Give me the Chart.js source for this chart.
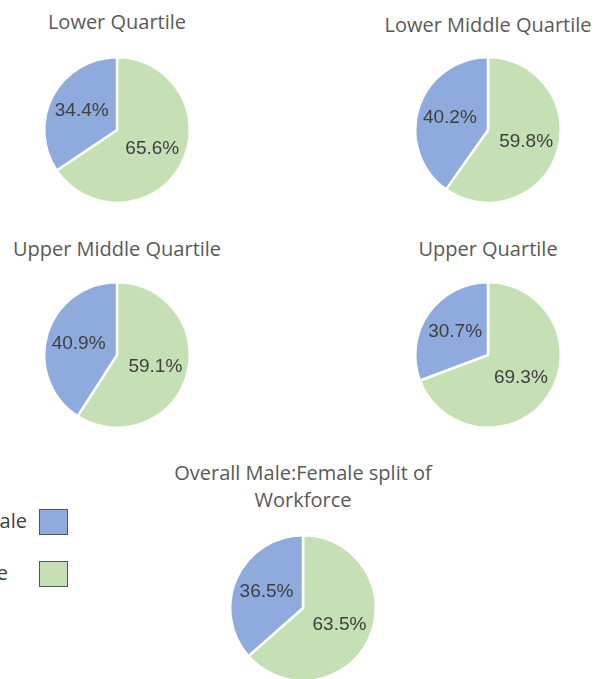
<!DOCTYPE html>
<html lang="en">
<head>
  <meta charset="UTF-8" />
  <title>Male:Female split by pay quartile</title>
  <script src="https://cdn.jsdelivr.net/npm/chart.js"></script>
  <style>
    body {
      margin: 0;
      background: white;
      width: 595px;
      height: 679px;
      overflow: hidden;
      position: relative;
      font-family: "Open Sans", Arial, sans-serif;
    }
    .title {
      position: absolute;
      width: 300px;
      text-align: center;
      color: #595959;
      font-size: 20px;
      line-height: 27px;
    }
    .pie {
      position: absolute;
      width: 152px;
      height: 152px;
    }
    .legend-text {
      position: absolute;
      width: 120px;
      text-align: right;
      color: #404040;
      font-size: 20px;
      line-height: 27px;
    }
    .legend-box {
      position: absolute;
      width: 27px;
      height: 24px;
      border: 1px solid #555;
    }
  </style>
</head>
<body>
  <div id="wrap"></div>

  <script>
    const groups = ['Lower Quartile', 'Lower Middle Quartile', 'Upper Middle Quartile', 'Upper Quartile', 'Overall Male:Female split of Workforce'];
    const seriesLabels = ['Male', 'Female'];
    const maleShare = [34.4, 40.2, 40.9, 30.7, 36.5];
    const femaleShare = [65.6, 59.8, 59.1, 69.3, 63.5];

    const maleColor = '#8faadc';
    const femaleColor = '#c5e0b4';

    // pie centres and title positions on the page
    const layout = [
      { cx: 117, cy: 130, ty: 8, title: ['Lower Quartile'] },
      { cx: 488, cy: 130, ty: 11, title: ['Lower Middle Quartile'] },
      { cx: 117, cy: 355, ty: 235, title: ['Upper Middle Quartile'] },
      { cx: 488, cy: 355, ty: 235, title: ['Upper Quartile'] },
      { cx: 303, cy: 608, ty: 459, title: ['Overall Male:Female split of', 'Workforce'] }
    ];

    const wrap = document.getElementById('wrap');

    // percent labels inside the slices
    const sliceLabels = {
      id: 'sliceLabels',
      afterDatasetsDraw(chart) {
        const c = chart.ctx;
        const meta = chart.getDatasetMeta(0);
        const values = chart.data.datasets[0].data;
        c.save();
        c.font = '19px "Liberation Sans", Arial, sans-serif';
        c.fillStyle = '#404040';
        c.textAlign = 'center';
        c.textBaseline = 'middle';
        meta.data.forEach((arc, i) => {
          const p = arc.getProps(['x', 'y', 'startAngle', 'endAngle', 'outerRadius'], true);
          const mid = (p.startAngle + p.endAngle) / 2;
          const r = p.outerRadius * 0.55;
          c.fillText(values[i].toFixed(1) + '%', p.x + Math.cos(mid) * r, p.y + Math.sin(mid) * r);
        });
        c.restore();
      }
    };

    groups.forEach((g, i) => {
      const l = layout[i];
      const t = document.createElement('div');
      t.className = 'title';
      t.style.left = (l.cx - 150) + 'px';
      t.style.top = l.ty + 'px';
      t.innerHTML = l.title.join('<br>');
      wrap.appendChild(t);

      const box = document.createElement('div');
      box.className = 'pie';
      box.style.left = (l.cx - 76) + 'px';
      box.style.top = (l.cy - 76) + 'px';
      const cv = document.createElement('canvas');
      box.appendChild(cv);
      wrap.appendChild(box);

      new Chart(cv, {
        type: 'pie',
        data: {
          labels: [seriesLabels[1], seriesLabels[0]],
          datasets: [{
            data: [femaleShare[i], maleShare[i]],
            backgroundColor: [femaleColor, maleColor],
            borderColor: '#ffffff',
            borderWidth: 2.5,
            hoverOffset: 0
          }]
        },
        options: {
          responsive: true,
          maintainAspectRatio: false,
          animation: false,
          layout: { padding: 2 },
          plugins: {
            legend: { display: false },
            tooltip: { enabled: false }
          }
        },
        plugins: [sliceLabels]
      });
    });

    // legend, partly cut off at the left edge like the original
    const legendRows = [
      { label: seriesLabels[0], color: maleColor, right: 27, top: 507 },
      { label: seriesLabels[1], color: femaleColor, right: 8, top: 559 }
    ];
    legendRows.forEach(row => {
      const txt = document.createElement('div');
      txt.className = 'legend-text';
      txt.style.left = (row.right - 120) + 'px';
      txt.style.top = row.top + 'px';
      txt.textContent = row.label;
      wrap.appendChild(txt);
      const sq = document.createElement('div');
      sq.className = 'legend-box';
      sq.style.left = '39px';
      sq.style.top = (row.top + 2) + 'px';
      sq.style.background = row.color;
      wrap.appendChild(sq);
    });
  </script>
</body>
</html>
